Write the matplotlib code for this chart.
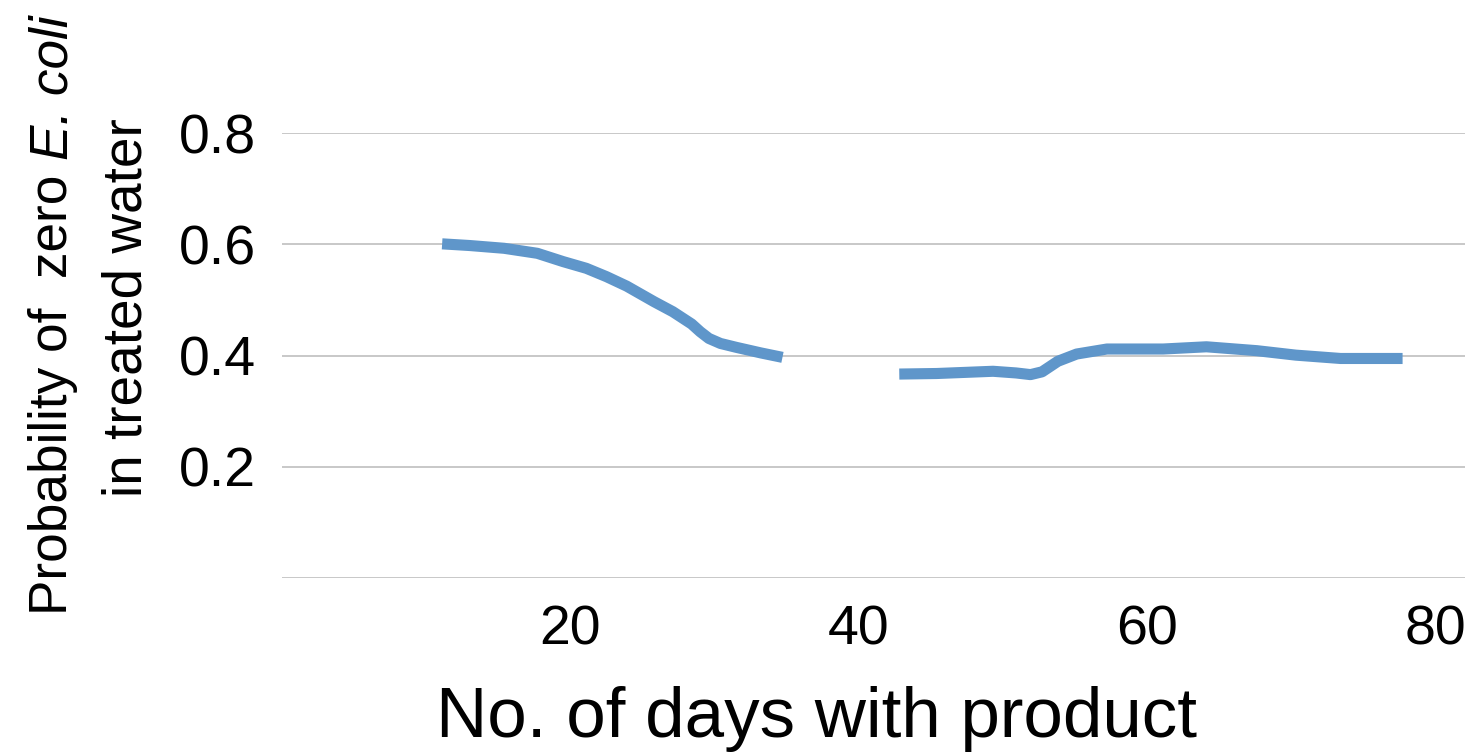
import matplotlib
matplotlib.use("Agg")
import matplotlib.pyplot as plt

plt.rcParams['font.family'] = ['Liberation Sans', 'DejaVu Sans']

# values (no data between ~35 and ~43 days)
days_a = [11.1, 13.0, 15.4, 17.7, 19.5, 21.1, 22.5, 23.9, 25.8, 27.1,
          28.4, 29.0, 29.6, 30.4, 31.5, 33.2, 34.7]
prob_a = [0.601, 0.598, 0.593, 0.584, 0.569, 0.557, 0.542, 0.525, 0.497, 0.479,
          0.457, 0.443, 0.431, 0.422, 0.415, 0.405, 0.397]
days_b = [42.8, 45.4, 49.3, 50.9, 51.9, 52.7, 53.8, 55.1, 57.2, 61.1,
          64.1, 67.6, 70.3, 73.4, 77.7]
prob_b = [0.367, 0.368, 0.372, 0.369, 0.366, 0.371, 0.390, 0.403, 0.412, 0.412,
          0.416, 0.409, 0.401, 0.395, 0.395]

x_ticks = [20, 40, 60, 80]
y_ticks = [0.2, 0.4, 0.6, 0.8]

W, H = 1469, 752
fig = plt.figure(figsize=(W / 100, H / 100), dpi=100)
ax = fig.add_axes([0.192, 0.231, 0.805, 0.592])

for xs, ys in [(days_a, prob_a), (days_b, prob_b)]:
    ax.plot(xs, ys, color='#5f96ca', lw=8, solid_capstyle='butt',
            solid_joinstyle='round', clip_on=False, zorder=3)

ax.set_xlim(0, 82)
ax.set_ylim(0, 0.8)
ax.set_xticks(x_ticks)
ax.set_yticks(y_ticks)
for y in [0] + y_ticks:
    ax.axhline(y, color='#c4c4c4', lw=1.3, zorder=1)

for s in ax.spines.values():
    s.set_visible(False)
ax.tick_params(length=0, labelsize=40)
ax.tick_params(axis='y', pad=19)
ax.tick_params(axis='x', pad=19)

# y label: two rotated lines, "E. coli" in italics
fs = 39.5
r = fig.canvas.get_renderer()

def text_len(s, size, style='normal'):
    t = fig.text(0, 0, s, fontsize=size, style=style)
    w = t.get_window_extent(r).width
    t.remove()
    return w

part1 = "Probability of  zero"
part2 = "E. coli"

def line1_len(size):
    sp = text_len("x x", size) - text_len("xx", size)
    return text_len(part1, size), sp, text_len(part2, size, 'italic')

w1, sp, w2 = line1_len(fs)
fs1 = fs * 600 / (w1 + sp + w2)   # first line is ~600 px long in the original
w1, sp, w2 = line1_len(fs1)
total = w1 + sp + w2
y0 = (H - 315) - total / 2
kw = dict(rotation=90, rotation_mode='anchor', va='baseline')
fig.text(67 / W, y0 / H, part1, ha='left', fontsize=fs1, **kw)
fig.text(67 / W, (y0 + w1 + sp) / H, part2, ha='left', style='italic',
         fontsize=fs1, **kw)
fig.text(141 / W, (H - 308) / H, "in treated water", ha='center', fontsize=fs, **kw)

fig.text(0.556, 0.020, "No. of days with product", ha='center', va='baseline',
         fontsize=51)

fig.savefig('out.png', dpi=100)
